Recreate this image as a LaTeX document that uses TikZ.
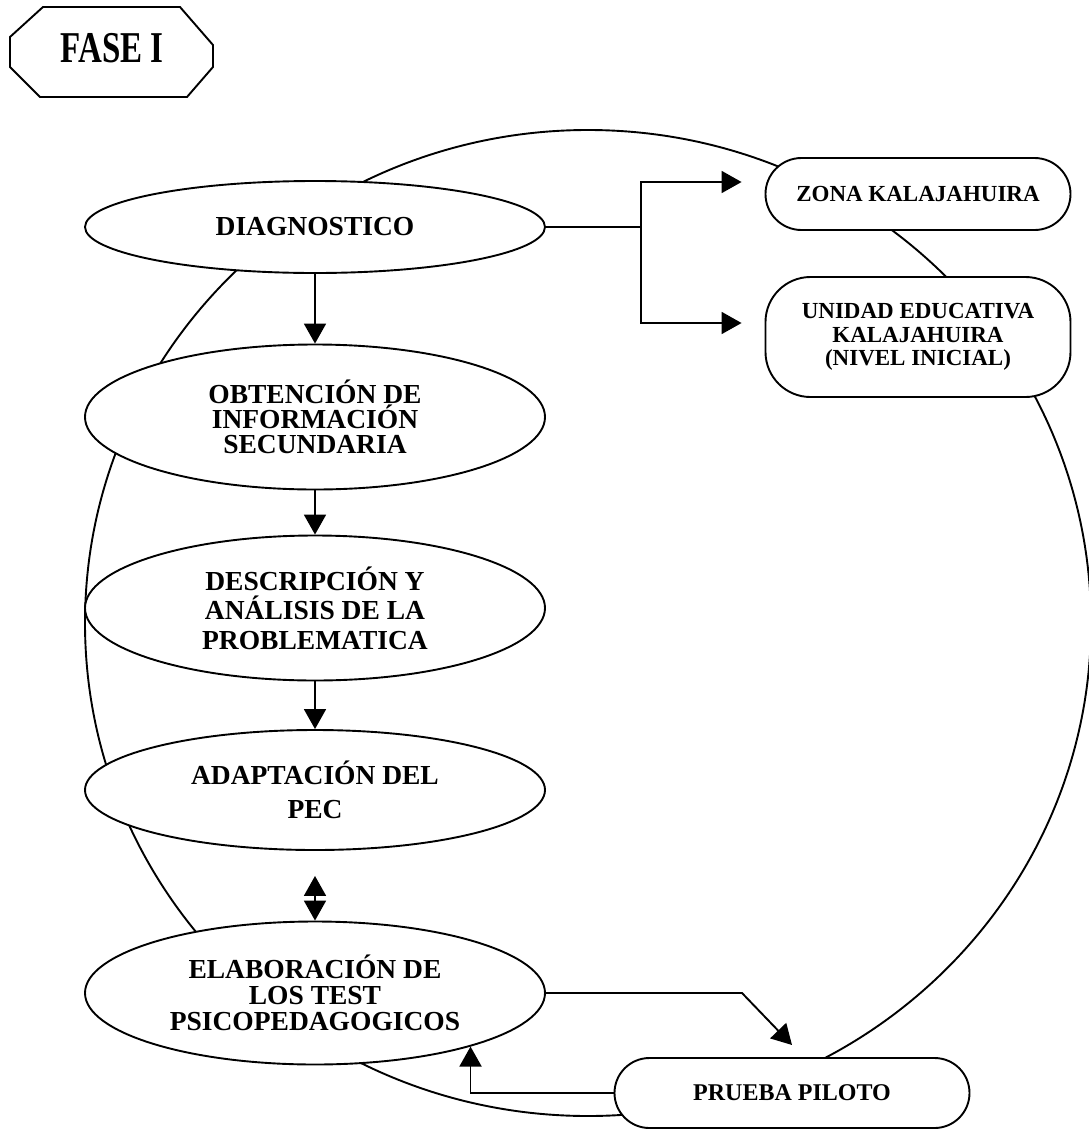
\documentclass[tikz,border=0pt]{standalone}
\usepackage{fontspec}
\setmainfont{Liberation Serif}
\usetikzlibrary{shapes.geometric,arrows.meta}
\begin{document}
\begin{tikzpicture}[x=1pt,y=-1pt,line width=1.9pt,
  tip/.tip={Triangle[length=20pt,width=22pt]},
  arr/.style={-tip},
  oval/.style={ellipse,draw,fill=white,minimum width=460pt,inner sep=0pt,align=center,
    font=\fontsize{27.5}{25}\selectfont\bfseries},
  pill/.style={rectangle,draw,fill=white,align=center,inner sep=0pt,
    font=\fontsize{23}{23.5}\selectfont\bfseries}]
\useasboundingbox (0,0) rectangle (1089,1130);
% big loop
\draw (588,623) ellipse [x radius=503, y radius=493];
% FASE I
\draw (43,7) -- (180,7) -- (213,45) -- (213,67) -- (187,97) -- (40,97) -- (10,67) -- (10,37) -- cycle;
\node (fase) at (112,48) {\fontsize{44}{44}\selectfont\bfseries\scalebox{0.75}[1]{FASE I}};
% ovals
\node[oval,minimum height=92pt] (diag) at (315,227) {DIAGNOSTICO};
\node[oval,minimum height=145pt] (obt) at (315,417) {OBTENCIÓN DE\\INFORMACIÓN\\SECUNDARIA};
\node[oval,minimum height=145pt,font=\fontsize{27.5}{29.5}\selectfont\bfseries] (desc) at (315,608) {DESCRIPCIÓN Y\\ANÁLISIS DE LA\\PROBLEMATICA};
\node[oval,minimum height=120pt,font=\fontsize{27.5}{34}\selectfont\bfseries] (adap) at (315,790) {ADAPTACIÓN DEL\\PEC};
\node[oval,minimum height=143pt,font=\fontsize{27.5}{26}\selectfont\bfseries] (elab) at (315,993) {ELABORACIÓN DE\\LOS TEST\\PSICOPEDAGOGICOS};
% pills
\node[pill,minimum width=305pt,minimum height=72pt,rounded corners=36pt] (zona) at (918,194) {ZONA KALAJAHUIRA};
\node[pill,minimum width=305pt,minimum height=120pt,rounded corners=45pt] (unid) at (918,337) {UNIDAD EDUCATIVA\\KALAJAHUIRA\\(NIVEL INICIAL)};
\node[pill,minimum width=355pt,minimum height=70pt,rounded corners=35pt,font=\fontsize{24}{24}\selectfont\bfseries] (prueba) at (792,1093) {PRUEBA PILOTO};
% connectors
\draw[arr] (diag.south) -- (obt.north);
\draw[arr] (obt.south) -- (desc.north);
\draw[arr] (desc.south) -- (adap.north);
\draw[tip-tip] ([yshift=-25pt]adap.south) -- (elab.north);
\coordinate (fork) at (641,227);
\draw (diag.east) -- (fork);
\draw[arr] (fork) |- ([xshift=-23pt,yshift=12pt]zona.west);
\draw[arr] (fork) |- ([xshift=-23pt,yshift=14pt]unid.west);
\coordinate (k1) at (742,993);
\coordinate (ptip) at (792,1045);
\draw[arr] (elab.east) -- (k1) -- (ptip);
\draw[arr] (prueba.west) -| (elab.-19.8);
\end{tikzpicture}
\end{document}
